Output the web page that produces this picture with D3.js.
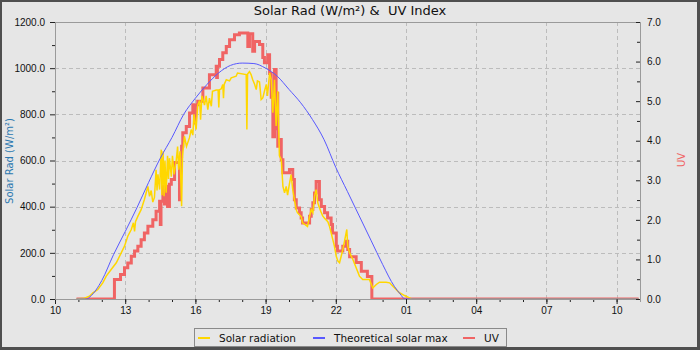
<!DOCTYPE html>
<html lang="en">
<head>
<meta charset="utf-8"/>
<title>Solar Rad &amp; UV Index</title>
<script src="https://cdn.jsdelivr.net/npm/d3@7"></script>
<style>
  body { margin: 0; background: #e6e6e6; }
  svg { display: block; font-family: "DejaVu Sans", sans-serif; }
  .axis text { font-size: 10px; fill: #111; }
  .axis .domain { stroke: #9a9a9a; }
  .axis line { stroke: #222; }
  .grid line { stroke: #bcbcbc; stroke-dasharray: 4,3; }
  .title { white-space: pre; }
</style>
</head>
<body>
<svg id="chart" width="700" height="350"></svg>
<script>
// hours are clock hours starting 10:00, anything past 24 is after midnight
var solarRad = [[10.92,0],[11.26,3],[11.47,12],[11.62,27],[11.83,41],[12.04,70],[12.19,99],[12.40,128],[12.62,157],[12.83,200],
  [12.97,229],[13.11,272],[13.26,301],[13.35,330],[13.40,293],[13.44,335],[13.54,358],[13.68,387],[13.82,431],[13.97,488],
  [14.04,445],[14.11,470],[14.18,420],[14.25,440],[14.32,560],[14.36,470],[14.40,540],[14.47,474],[14.54,647],[14.57,450],
  [14.62,640],[14.66,445],[14.70,600],[14.75,460],[14.81,620],[14.85,520],[14.89,610],[14.97,530],[15.02,620],[15.09,540],
  [15.18,600],[15.24,660],[15.28,560],[15.34,640],[15.41,402],[15.45,620],[15.53,705],[15.62,661],[15.75,700],[15.82,734],
  [15.89,710],[15.94,800],[16.03,734],[16.10,840],[16.18,860],[16.22,777],[16.28,880],[16.39,840],[16.46,880],[16.53,820],
  [16.60,870],[16.68,835],[16.73,900],[16.89,905],[16.97,905],[17.00,830],[17.03,907],[17.10,910],[17.17,929],[17.20,870],
  [17.23,930],[17.32,950],[17.46,945],[17.53,958],[17.74,965],[17.80,979],[18.17,972],[18.20,734],[18.23,975],[18.31,985],
  [18.38,972],[18.45,950],[18.53,930],[18.60,907],[18.65,945],[18.74,940],[18.81,864],[18.88,871],[18.95,900],[19.03,930],
  [19.08,880],[19.17,979],[19.24,950],[19.31,807],[19.38,950],[19.45,750],[19.52,900],[19.59,620],[19.67,604],[19.74,488],
  [19.81,460],[19.88,488],[19.94,450],[20.02,500],[20.09,539],[20.16,474],[20.23,431],[20.31,387],[20.36,374],[20.52,357],
  [20.58,330],[20.79,314],[20.88,358],[20.95,387],[21.02,374],[21.09,445],[21.16,474],[21.23,417],[21.30,395],[21.38,374],
  [21.44,360],[21.52,350],[21.66,335],[21.73,315],[21.80,287],[21.87,258],[21.94,229],[22.02,185],[22.09,164],[22.16,157],
  [22.23,185],[22.30,214],[22.37,250],[22.47,301],[22.51,229],[22.59,200],[22.73,171],[22.87,135],[23.01,99],[23.15,84],
  [23.44,84],[23.58,48],[23.73,63],[23.87,73],[24.15,73],[24.30,70],[24.44,55],[24.58,41],[24.72,27],[24.94,15],
  [25.15,5],[25.24,0],[34.94,0]];

var solarMax = [[10.92,0],[11.35,0],[11.5,10],[12.0,80],[12.5,192],[13.0,292],[13.5,395],[14.0,505],[14.5,610],[15.0,700],
  [15.5,800],[16.0,870],[16.5,930],[17.0,980],[17.5,1012],[18.0,1022],[18.5,1020],[19.0,1000],[19.5,965],[20.0,908],
  [20.5,850],[21.0,778],[21.5,690],[22.0,570],[22.5,465],[23.0,360],[23.5,255],[24.0,150],[24.5,55],[24.75,22],
  [24.95,0],[34.94,0]];

var uvIndex = [[10.92,0],[12.54,0.49],[12.80,0.62],[12.97,0.79],[13.11,0.91],[13.26,1.08],[13.40,1.21],[13.54,1.33],[13.68,1.50],[13.82,1.67],
  [13.97,1.84],[14.18,2.0],[14.32,2.22],[14.47,2.47],[14.50,1.88],[14.53,2.47],[14.61,2.85],[14.68,2.4],[14.75,2.85],[14.81,2.34],
  [14.89,2.9],[14.97,3.02],[15.11,3.45],[15.32,2.51],[15.36,3.6],[15.41,3.86],[15.46,4.2],[15.61,4.36],[15.75,4.70],[15.89,4.91],
  [15.96,4.45],[16.00,4.91],[16.10,5.0],[16.32,5.33],[16.60,5.67],[16.89,5.88],[16.91,5.6],[16.94,5.88],[17.03,6.05],[17.17,6.22],
  [17.32,6.38],[17.46,6.55],[17.67,6.68],[17.88,6.72],[18.17,6.72],[18.24,6.38],[18.31,6.7],[18.45,6.26],[18.53,6.51],[18.74,6.43],
  [18.88,6.1],[18.95,5.97],[19.09,6.17],[19.17,5.7],[19.24,5.1],[19.31,4.1],[19.38,5.8],[19.45,4.3],[19.49,5.2],[19.52,3.86],
  [19.59,4.03],[19.67,3.52],[19.74,3.19],[20.02,3.27],[20.16,3.02],[20.23,2.51],[20.31,2.30],[20.45,2.18],[20.52,2.05],[20.58,1.92],
  [20.88,2.09],[20.95,2.26],[21.02,2.43],[21.09,2.68],[21.16,2.97],[21.30,2.51],[21.38,2.34],[21.52,2.18],[21.65,2.05],[21.80,1.88],
  [21.86,1.67],[22.02,1.33],[22.07,1.21],[22.30,1.33],[22.44,1.46],[22.51,1.25],[22.59,1.07],[22.87,0.92],[23.09,0.70],[23.35,0.57],
  [23.54,0],[34.94,0]];

var xTickHours = [10, 13, 16, 19, 22, 25, 28, 31, 34];
var radTicks = [0, 200, 400, 600, 800, 1000, 1200];
var uvTicks = [0, 1, 2, 3, 4, 5, 6, 7];
var seriesNames = ["Solar radiation", "Theoretical solar max", "UV"];
var seriesColors = ["#ffd700", "#5858ff", "#f06464"];

var base = Date.UTC(2024, 5, 1, 0);
function toTime(h) { return new Date(base + h * 3600000); }

var svg = d3.select("#chart");

// outer frame
svg.append("rect").attr("width", 700).attr("height", 350).attr("fill", "#4f4f4f");
svg.append("rect").attr("x", 2).attr("y", 2).attr("width", 695).attr("height", 345).attr("fill", "#e6e6e6");

var margin = {top: 22, right: 60, bottom: 51, left: 55},
    width = 700 - margin.left - margin.right,
    height = 350 - margin.top - margin.bottom;

var g = svg.append("g").attr("transform", "translate(" + margin.left + "," + margin.top + ")");

var x = d3.scaleUtc().domain([toTime(10), toTime(35)]).range([0, width]);
var y = d3.scaleLinear().domain([0, 1200]).range([height, 0]);
var yUV = d3.scaleLinear().domain([0, 7]).range([height, 0]);

// grid
var grid = g.append("g").attr("class", "grid");
grid.selectAll(".vx").data(xTickHours.slice(1)).enter().append("line")
  .attr("x1", function(d) { return Math.round(x(toTime(d))) + 0.5; })
  .attr("x2", function(d) { return Math.round(x(toTime(d))) + 0.5; })
  .attr("y1", 0).attr("y2", height);
grid.selectAll(".hy").data(radTicks.slice(1, -1)).enter().append("line")
  .attr("x1", 0).attr("x2", width)
  .attr("y1", function(d) { return Math.round(y(d)) + 0.5; })
  .attr("y2", function(d) { return Math.round(y(d)) + 0.5; });

// frame top line
g.append("line").attr("x1", 0).attr("x2", width).attr("y1", 0.5).attr("y2", 0.5).attr("stroke", "#9a9a9a");

// axes
var fmt = d3.format(".1f");
var minorHours = d3.range(10, 35);
g.append("g").attr("class", "axis").attr("transform", "translate(0," + height + ")")
  .call(d3.axisBottom(x).tickValues(minorHours.map(toTime)).tickSize(3).tickFormat(""));
g.append("g").attr("class", "axis").attr("transform", "translate(0," + height + ")")
  .call(d3.axisBottom(x).tickValues(xTickHours.map(toTime)).tickSize(5).tickSizeOuter(0)
    .tickPadding(3).tickFormat(d3.utcFormat("%H")));

g.append("g").attr("class", "axis")
  .call(d3.axisLeft(y).tickValues(d3.range(100, 1200, 200)).tickSize(3).tickFormat(""));
g.append("g").attr("class", "axis")
  .call(d3.axisLeft(y).tickValues(radTicks).tickSize(5).tickSizeOuter(0).tickPadding(5).tickFormat(fmt));

g.append("g").attr("class", "axis").attr("transform", "translate(" + width + ",0)")
  .call(d3.axisRight(yUV).tickValues(d3.range(0.5, 7, 1)).tickSize(-3).tickFormat(""));
g.append("g").attr("class", "axis").attr("transform", "translate(" + width + ",0)")
  .call(d3.axisRight(yUV).tickValues(uvTicks).tickSize(-4).tickSizeOuter(0).tickPadding(7).tickFormat(fmt));

// series
svg.append("clipPath").attr("id", "plotclip").append("rect")
  .attr("x", 0).attr("y", 0).attr("width", width + 1).attr("height", height);
var plot = g.append("g").attr("clip-path", "url(#plotclip)");

var uvLine = d3.line().curve(d3.curveStepAfter)
  .x(function(d) { return x(toTime(d[0])); }).y(function(d) { return yUV(d[1]); });
var radLine = d3.line()
  .x(function(d) { return x(toTime(d[0])); }).y(function(d) { return y(d[1]); });
var maxLine = d3.line().curve(d3.curveMonotoneX)
  .x(function(d) { return x(toTime(d[0])); }).y(function(d) { return y(d[1]); });

plot.append("path").datum(uvIndex).attr("d", uvLine)
  .attr("fill", "none").attr("stroke", seriesColors[2]).attr("stroke-width", 3);
plot.append("path").datum(solarRad).attr("d", radLine)
  .attr("fill", "none").attr("stroke", seriesColors[0]).attr("stroke-width", 1.5);
plot.append("path").datum(solarMax).attr("d", maxLine)
  .attr("fill", "none").attr("stroke", seriesColors[1]).attr("stroke-width", 1);

// titles
svg.append("text").attr("class", "title").attr("x", 350).attr("y", 15).attr("text-anchor", "middle")
  .attr("font-size", 13).attr("fill", "#111").text("Solar Rad (W/m²) &  UV Index");
svg.append("text").attr("transform", "translate(13,161) rotate(-90)").attr("text-anchor", "middle")
  .attr("font-size", 10).attr("fill", "#2a78b0").text("Solar Rad (W/m²)");
svg.append("text").attr("transform", "translate(685,160) rotate(-90)").attr("text-anchor", "middle")
  .attr("font-size", 10).attr("fill", seriesColors[2]).text("UV");

// legend
var legend = svg.append("g").attr("transform", "translate(194,328)");
legend.append("rect").attr("x", 0.5).attr("y", 0.5).attr("width", 312).attr("height", 18)
  .attr("fill", "none").attr("stroke", "#8a8a8a");
var legendX = [4, 119, 269];
seriesNames.forEach(function(name, i) {
  var item = legend.append("g").attr("transform", "translate(" + legendX[i] + ",0)");
  item.append("line").attr("x1", 0).attr("x2", 12).attr("y1", 10).attr("y2", 10)
    .attr("stroke", seriesColors[i]).attr("stroke-width", 2);
  item.append("text").attr("x", 21).attr("y", 13.5).attr("font-size", 10.5).attr("fill", "#111").text(name);
});
</script>
</body>
</html>
